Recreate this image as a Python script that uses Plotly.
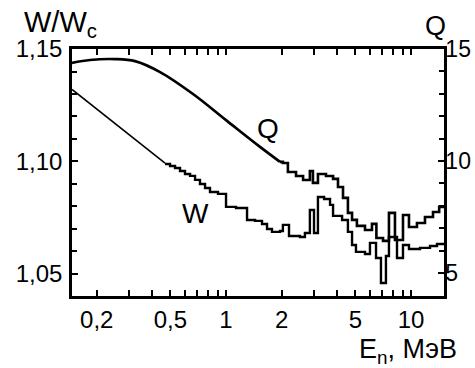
import math
import plotly.graph_objects as go

# ---- data ----
# Q: smooth part (E in MeV, Q on right axis)
q_smooth_e = [0.147, 0.184, 0.251, 0.322, 0.440, 0.663, 1.012, 1.527, 1.958]
q_smooth_v = [14.38, 14.51, 14.55, 14.46, 13.97, 12.99, 11.79, 10.63, 9.96]
# Q: stepped part (break energy, level after the break)
q_step_e = [2.03, 2.16, 2.39, 2.61, 2.84, 2.95, 3.14, 3.47, 3.79, 4.03, 4.29, 4.56,
            4.80, 5.10, 5.64, 6.15, 6.50, 7.06, 7.60, 8.19, 9.05, 9.75, 10.77,
            11.90, 13.15, 14.2]
q_step_v = [9.91, 9.51, 9.33, 9.15, 9.55, 9.02, 9.42, 9.33, 9.20, 8.84, 8.35, 7.68,
            7.37, 7.10, 6.92, 7.19, 6.56, 6.43, 7.68, 6.47, 7.59, 7.05, 7.23,
            7.50, 7.72, 7.95]

# W: straight part (left axis)
w_line_e = [0.147, 0.468]
w_line_v = [1.1320, 1.0993]
# W: stepped part
w_step_e = [0.468, 0.498, 0.530, 0.564, 0.600, 0.639, 0.680, 0.723, 0.770, 0.819,
            0.905, 1.000, 1.132, 1.299, 1.435, 1.565, 1.666, 1.772, 1.958, 2.03,
            2.19, 2.51, 2.67, 2.84, 2.99, 3.14, 3.39, 3.65, 3.79, 4.24, 4.56,
            4.80, 5.04, 5.64, 6.00, 6.47, 6.88, 7.32, 7.60, 8.40, 9.05, 9.75,
            11.19, 12.67, 13.82]
w_step_v = [1.0989, 1.0980, 1.0971, 1.0958, 1.0944, 1.0936, 1.0918, 1.0900, 1.0882,
            1.0864, 1.0856, 1.0798, 1.0793, 1.0740, 1.0736, 1.0722, 1.0700, 1.0687,
            1.0691, 1.0718, 1.0669, 1.0664, 1.0682, 1.0784, 1.0682, 1.0842, 1.0833,
            1.0807, 1.0758, 1.0740, 1.0687, 1.0629, 1.0598, 1.0589, 1.0638, 1.0571,
            1.0460, 1.0580, 1.0664, 1.0571, 1.0629, 1.0611, 1.0616, 1.0624, 1.0633]

E_START = 0.147
E_END = 15.08

x_major = [0.2, 0.5, 1, 2, 5, 10]
x_major_text = ["0,2", "0,5", "1", "2", "5", "10"]
x_minor = [0.3, 0.4, 0.6, 0.7, 0.8, 0.9, 3, 4, 6, 7, 8, 9]
w_major = [1.05, 1.10, 1.15]
w_major_text = ["1,05", "1,10", "1,15"]
q_major = [5, 10, 15]
q_major_text = ["5", "10", "15"]


def steps(e, v, start_e, start_v, end_e):
    xs, ys = [start_e], [start_v]
    prev = start_v
    for ei, vi in zip(e, v):
        xs += [ei, ei]
        ys += [prev, vi]
        prev = vi
    xs.append(end_e)
    ys.append(prev)
    return xs, ys


qx, qy = steps(q_step_e, q_step_v, q_smooth_e[-1], q_smooth_v[-1], E_END)
wx, wy = steps(w_step_e[1:], w_step_v[1:], w_step_e[0], w_step_v[0], E_END)

FONT = "Liberation Sans, Arial, sans-serif"

fig = go.Figure()
fig.add_trace(go.Scatter(x=q_smooth_e, y=q_smooth_v, yaxis="y2", mode="lines",
                         line=dict(color="black", width=2.7, shape="spline")))
fig.add_trace(go.Scatter(x=qx, y=qy, yaxis="y2", mode="lines",
                         line=dict(color="black", width=2.6)))
fig.add_trace(go.Scatter(x=w_line_e, y=w_line_v, mode="lines",
                         line=dict(color="black", width=1.6)))
fig.add_trace(go.Scatter(x=wx, y=wy, mode="lines",
                         line=dict(color="black", width=2.4)))

TICKFONT = dict(family=FONT, size=24, color="black")

fig.update_layout(
    width=475, height=368,
    margin=dict(l=72, r=31, t=49, b=72, autoexpand=False),
    paper_bgcolor="white", plot_bgcolor="white",
    showlegend=False,
    font=dict(family=FONT, size=22, color="black"),
    xaxis=dict(type="log", range=[math.log10(E_START), math.log10(E_END)],
               automargin=False,
               showgrid=False, zeroline=False,
               showline=True, linecolor="black", linewidth=2.5, mirror="allticks",
               ticks="inside", ticklen=6, tickwidth=2, tickcolor="black",
               tickvals=x_major, ticktext=x_major_text,
               minor=dict(tickvals=x_minor, ticks="inside", ticklen=4, tickwidth=2,
                          tickcolor="black", showgrid=False),
               tickfont=TICKFONT, ticklabelstandoff=0),
    yaxis=dict(range=[1.0402, 1.15], automargin=False,
               showgrid=False, zeroline=False,
               showline=True, linecolor="black", linewidth=2.5,
               ticks="inside", ticklen=6, tickwidth=2, tickcolor="black",
               tickvals=w_major, ticktext=w_major_text,
               minor=dict(dtick=0.01, tick0=1.0, ticks="inside", ticklen=5,
                          tickwidth=2, tickcolor="black", showgrid=False),
               tickfont=TICKFONT, ticklabelstandoff=2),
    yaxis2=dict(range=[3.97, 15], overlaying="y", side="right", automargin=False,
                showgrid=False, zeroline=False,
                showline=True, linecolor="black", linewidth=2.5,
                ticks="inside", ticklen=6, tickwidth=2, tickcolor="black",
                tickvals=q_major, ticktext=q_major_text,
                minor=dict(dtick=1, tick0=0, ticks="inside", ticklen=5,
                           tickwidth=2, tickcolor="black", showgrid=False),
                tickfont=dict(family=FONT, size=23, color="black"),
                ticklabelstandoff=-6),
)

fig.add_annotation(text="W/W<sub>c</sub>", xref="paper", yref="paper",
                   x=-0.134, y=1.10, xanchor="left", yanchor="middle",
                   showarrow=False, font=dict(family=FONT, size=29))
fig.add_annotation(text="Q", xref="paper", yref="paper", x=0.978, y=1.093,
                   xanchor="center", yanchor="middle", showarrow=False,
                   font=dict(family=FONT, size=27))
fig.add_annotation(text="E<sub>n</sub>, МэВ", xref="paper", yref="paper",
                   x=0.903, y=-0.223, xanchor="center", yanchor="middle",
                   showarrow=False, font=dict(family=FONT, size=27))
fig.add_annotation(text="Q", xref="x", yref="y2", x=math.log10(1.69), y=11.47,
                   showarrow=False, font=dict(family=FONT, size=28))
fig.add_annotation(text="W", xref="x", yref="y", x=math.log10(0.68), y=1.0767,
                   showarrow=False, font=dict(family=FONT, size=28))

fig.write_html(
    "out.html",
    config={"displayModeBar": False},
    post_script="document.body.style.margin='0';"
                "document.documentElement.style.overflow='hidden';"
                "document.body.style.overflow='hidden';",
)
